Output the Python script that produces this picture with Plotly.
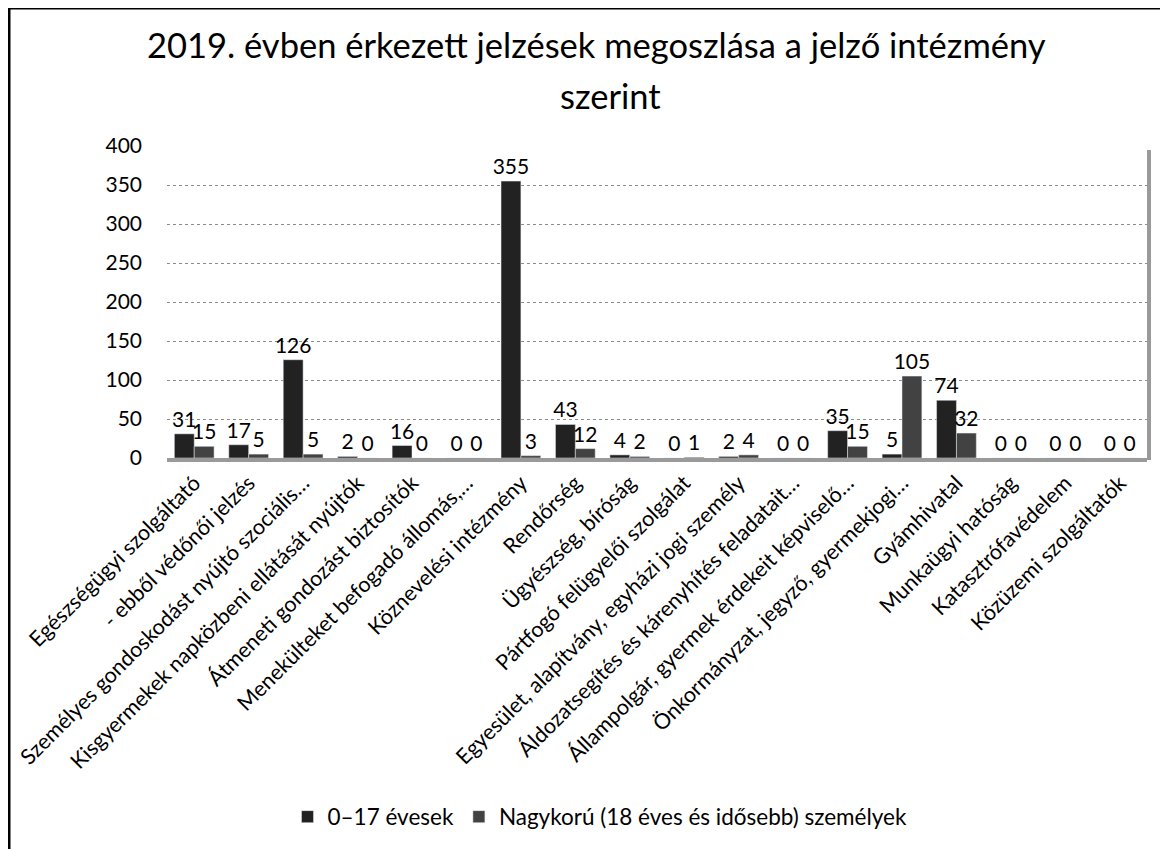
import plotly.graph_objects as go

# intézmények (x tengely kategóriák)
categories = [
    "Egészségügyi szolgáltató",
    "- ebből védőnői jelzés",
    "Személyes gondoskodást nyújtó szociális…",
    "Kisgyermekek napközbeni ellátását nyújtók",
    "Átmeneti gondozást biztosítók",
    "Menekülteket befogadó állomás,…",
    "Köznevelési intézmény",
    "Rendőrség",
    "Ügyészség, bíróság",
    "Pártfogó felügyelői szolgálat",
    "Egyesület, alapítvány, egyházi jogi személy",
    "Áldozatsegítés és kárenyhítés feladatait…",
    "Állampolgár, gyermek érdekeit képviselő…",
    "Önkormányzat, jegyző, gyermekjogi…",
    "Gyámhivatal",
    "Munkaügyi hatóság",
    "Katasztrófavédelem",
    "Közüzemi szolgáltatók",
]
kiskoruak = [31, 17, 126, 2, 16, 0, 355, 43, 4, 0, 2, 0, 35, 5, 74, 0, 0, 0]
nagykoruak = [15, 5, 5, 0, 0, 0, 3, 12, 2, 1, 4, 0, 15, 105, 32, 0, 0, 0]

series_names = ["0–17 évesek", "Nagykorú (18 éves és idősebb) személyek"]
y_ticks = [0, 50, 100, 150, 200, 250, 300, 350, 400]
title_lines = ["2019. évben érkezett jelzések megoszlása a jelző intézmény", "szerint"]

FONT = "Lato"

# the page adds an 8px body margin, so the figure is drawn 8px smaller
OFF = 8
FIG_W, FIG_H = 1168 - OFF, 849 - OFF
# plot area in page pixels
L, R, T, B = 167, 1147, 146, 458
W, H = R - L, B - T


def px_x(p):
    return (p - L) / W


def px_y(p):
    return (B - p) / H


fig = go.Figure()
fig.add_trace(go.Bar(
    x=categories, y=kiskoruak, name=series_names[0],
    marker=dict(color="#222222"),
    text=kiskoruak, textposition="outside", cliponaxis=False,
    constraintext="none",
    textfont=dict(family=FONT, size=21, color="black"),
))
fig.add_trace(go.Bar(
    x=categories, y=nagykoruak, name=series_names[1],
    marker=dict(color="#424242"),
    text=nagykoruak, textposition="outside", cliponaxis=False,
    constraintext="none",
    textfont=dict(family=FONT, size=21, color="black"),
))

fig.update_layout(
    width=FIG_W, height=FIG_H,
    margin=dict(l=L - OFF, r=FIG_W - (R - OFF), t=T - OFF, b=FIG_H - (B - OFF),
                autoexpand=False),
    paper_bgcolor="white", plot_bgcolor="white",
    barmode="group", bargap=0.27, bargroupgap=0,
    font=dict(family=FONT, color="black"),
    xaxis=dict(
        tickangle=-45, tickfont=dict(family=FONT, size=21.5, color="black"),
        showline=True, linecolor="#9a9a9a", linewidth=4,
        showgrid=False, automargin=False, ticks="",
    ),
    yaxis=dict(
        range=[0, 400], tickvals=y_ticks,
        tickfont=dict(family=FONT, size=21, color="black"),
        showgrid=True, gridcolor="#8c8c8c", griddash="dot", gridwidth=1,
        zeroline=False, showline=False, automargin=False, ticklabelstandoff=24,
    ),
    legend=dict(
        orientation="h", x=px_x(600), xanchor="center",
        y=px_y(817), yanchor="middle",
        font=dict(family=FONT, size=22.5, color="black"),
        itemwidth=30, traceorder="normal", entrywidth=0,
    ),
    annotations=[
        dict(text=title_lines[0], xref="paper", yref="paper",
             x=px_x(596), y=px_y(44), xanchor="center", yanchor="middle",
             showarrow=False, font=dict(family=FONT, size=34.5, color="black")),
        dict(text=title_lines[1], xref="paper", yref="paper",
             x=px_x(610), y=px_y(96), xanchor="center", yanchor="middle",
             showarrow=False, font=dict(family=FONT, size=34.5, color="black")),
    ],
    shapes=[
        # plot area shadow on the right
        dict(type="line", xref="paper", yref="paper",
             x0=px_x(1149), x1=px_x(1149), y0=px_y(150), y1=px_y(460),
             line=dict(color="#9a9a9a", width=4)),
        # outer frame (left and top edges visible)
        dict(type="rect", xref="paper", yref="paper",
             x0=px_x(9), x1=px_x(1180), y0=px_y(860), y1=px_y(8),
             line=dict(color="black", width=3)),
    ],
)

fig.write_html("out.html")
